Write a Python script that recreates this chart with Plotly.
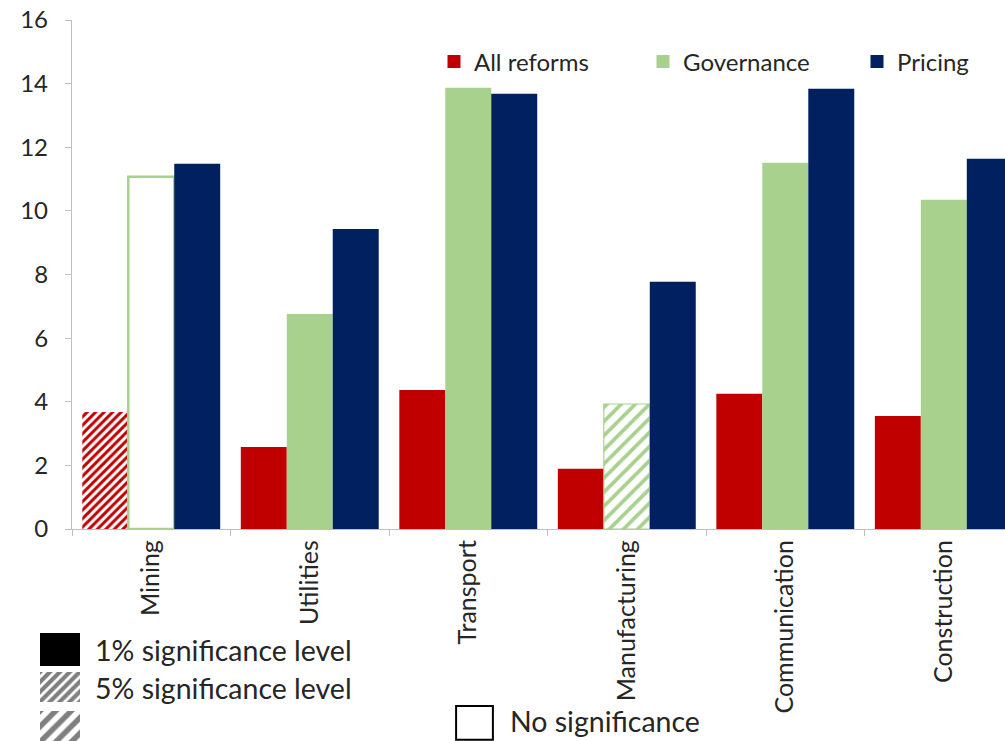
import plotly.graph_objects as go

# ---------------- data ----------------
categories = ["Mining", "Utilities", "Transport", "Manufacturing", "Communication", "Construction"]
all_reforms = [3.68, 2.58, 4.37, 1.89, 4.25, 3.55]
governance = [11.07, 6.76, 13.87, 3.93, 11.51, 10.35]
pricing = [11.48, 9.43, 13.68, 7.77, 13.84, 11.64]
# significance level of each bar: "1%", "5%", "10%" or "none"
sig_all = ["5%", "1%", "1%", "1%", "1%", "1%"]
sig_gov = ["none", "1%", "1%", "10%", "1%", "1%"]
sig_pri = ["1%", "1%", "1%", "1%", "1%", "1%"]
y_ticks = [0, 2, 4, 6, 8, 10, 12, 14, 16]
series_names = ["All reforms", "Governance", "Pricing"]
sig_labels = ["1% significance level", "5% significance level", "", "No significance"]

# ---------------- style ----------------
RED = "#C00000"
GREEN = "#A9D18E"
NAVY = "#002060"
AXIS = "#BFBFBF"
TXT = "#262626"
FONT = "Lato, Open Sans, sans-serif"
W, H = 1005, 741   # figure size


def px_x(a, b):
    return [a / W, min(1, b / W)]


def px_y(top, bottom):
    return [max(0, (H - bottom) / H), (H - top) / H]


def fx(a):
    return a / W


def fy(a):
    return (H - a) / H


def style_for(color, sig):
    if sig == "1%":
        return dict(color=color, line=dict(width=0))
    if sig == "5%":
        return dict(color="white", line=dict(width=0),
                    pattern=dict(shape="/", fgcolor=color, bgcolor="white",
                                 size=6, solidity=0.5, fillmode="replace"))
    if sig == "10%":
        return dict(color="white", line=dict(color=color, width=1.2),
                    pattern=dict(shape="/", fgcolor=color, bgcolor="white",
                                 size=10, solidity=0.38, fillmode="replace"))
    return dict(color="white", line=dict(color=color, width=2.5))


fig = go.Figure()

for name, vals, col, sigs in [
    (series_names[0], all_reforms, RED, sig_all),
    (series_names[1], governance, GREEN, sig_gov),
    (series_names[2], pricing, NAVY, sig_pri),
]:
    for level in ["1%", "5%", "10%", "none"]:
        if level not in sigs:
            continue
        yy = [v if s == level else None for v, s in zip(vals, sigs)]
        fig.add_trace(go.Bar(x=categories, y=yy, name=name, showlegend=False,
                             offsetgroup=name, marker=style_for(col, level),
                             hovertemplate="%{x}: %{y}<extra>" + name + "</extra>"))

# legend entries (solid colour keys), one legend box per series
for i, (name, col) in enumerate(zip(series_names, [RED, GREEN, NAVY])):
    fig.add_trace(go.Scatter(x=[None], y=[None], mode="markers", name=name,
                             marker=dict(symbol="square", size=13, color=col),
                             legend="legend" if i == 0 else f"legend{i+1}",
                             showlegend=True))

# ---------------- significance key (small swatch subplots) ----------------
key_swatches = [
    # (axis index, fill, pattern shape, pattern size, solidity, line width)
    (2, "black", "", 8, 0.3, 0),
    (3, "white", "/", 7, 0.6, 0),
    (4, "white", "/", 11, 0.5, 0),
    (5, "white", "", 8, 0.3, 2),
]
for ax, fill, shp, sz, sol, lw in key_swatches:
    fig.add_trace(go.Bar(
        x=[0], y=[1], width=[1], offset=-0.5, showlegend=False, hoverinfo="skip",
        marker=dict(color=fill, line=dict(color="black", width=lw),
                    pattern=dict(shape=shp, fgcolor="black", bgcolor="white",
                                 size=sz, solidity=sol)),
        xaxis=f"x{ax}", yaxis=f"y{ax}"))

hidden = dict(visible=False, fixedrange=True, automargin=False)
layout_axes = {
    "xaxis2": dict(domain=px_x(40, 80), range=[-0.5, 0.5], anchor="y2", **hidden),
    "yaxis2": dict(domain=px_y(633, 666), range=[0, 1], anchor="x2", **hidden),
    "xaxis3": dict(domain=px_x(40, 80), range=[-0.5, 0.5], anchor="y3", **hidden),
    "yaxis3": dict(domain=px_y(672, 702), range=[0, 1], anchor="x3", **hidden),
    "xaxis4": dict(domain=px_x(40, 80), range=[-0.5, 0.5], anchor="y4", **hidden),
    "yaxis4": dict(domain=px_y(711, 741), range=[0, 1], anchor="x4", **hidden),
    "xaxis5": dict(domain=px_x(455, 494), range=[-0.53, 0.53], anchor="y5", **hidden),
    "yaxis5": dict(domain=px_y(705, 741), range=[-0.04, 1.03], anchor="x5", **hidden),
}

annotations = []
for label, yc in zip(sig_labels[:2], [650, 688]):
    annotations.append(dict(text=label, x=fx(93), y=fy(yc),
                            xref="paper", yref="paper",
                            xanchor="left", yanchor="middle", showarrow=False,
                            font=dict(family=FONT, size=28.5, color=TXT)))
annotations.append(dict(text=sig_labels[3], x=fx(508), y=fy(721), xref="paper", yref="paper",
                        xanchor="left", yanchor="middle", showarrow=False,
                        font=dict(family=FONT, size=28.5, color=TXT)))

leg_common = dict(orientation="h", yanchor="middle", xanchor="left", bgcolor="rgba(0,0,0,0)",
                  font=dict(family=FONT, size=24, color=TXT), itemwidth=30)
leg_y = fy(62)

fig.update_layout(
    width=W, height=H,
    margin=dict(l=0, r=0, t=0, b=0, autoexpand=False),
    paper_bgcolor="white", plot_bgcolor="white",
    barmode="group", bargap=0.13, bargroupgap=0,
    font=dict(family=FONT, color=TXT),
    xaxis=dict(domain=px_x(72, 1005), range=[-0.5, 5.386], type="category",
               showline=True, linecolor=AXIS, linewidth=1.3, automargin=False,
               ticks="outside", ticklen=6, tickcolor=AXIS, tickson="boundaries",
               tickangle=-90, tickfont=dict(family=FONT, size=25, color=TXT),
               showgrid=False, zeroline=False, fixedrange=True),
    yaxis=dict(domain=px_y(20, 529), range=[0, 16], tickvals=y_ticks,
               showline=True, linecolor=AXIS, linewidth=1.3, automargin=False,
               ticks="outside", ticklen=6, tickcolor=AXIS,
               tickfont=dict(family=FONT, size=24, color=TXT),
               ticklabelstandoff=12, ticklabeloverflow="allow",
               showgrid=False, zeroline=False, fixedrange=True),
    legend=dict(x=fx(474 - 40), y=leg_y, **leg_common),
    legend2=dict(x=fx(683 - 40), y=leg_y, **leg_common),
    legend3=dict(x=fx(897 - 40), y=leg_y, **leg_common),
    annotations=annotations,
    **layout_axes,
)

# remove the browser's default 8px page margin so the figure fills the window exactly
fig.write_html("out.html",
               config={"displayModeBar": False},
               post_script="document.body.style.margin='0';document.body.style.overflow='hidden';")
